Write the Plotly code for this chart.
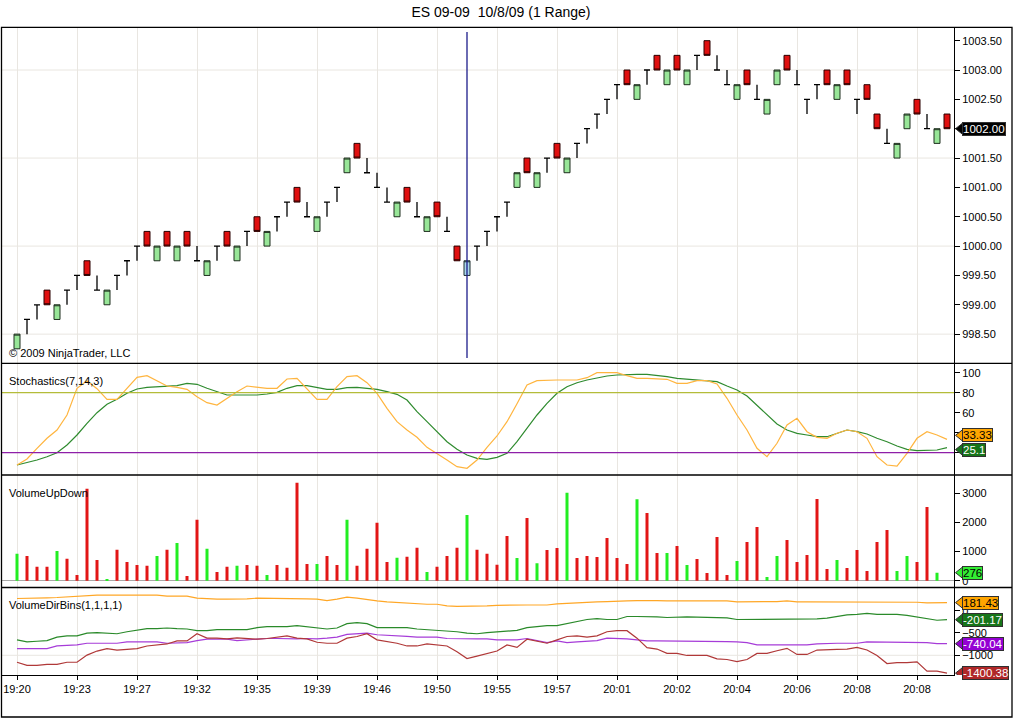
import plotly.graph_objects as go
from plotly.subplots import make_subplots

# ---------------- data ----------------
title_text = "ES 09-09\u00a0\u00a010/8/09 (1 Range)"
copyright_text = "\u00a9 2009 NinjaTrader, LLC"
panel_names = ["Stochastics(7,14,3)", "VolumeUpDown", "VolumeDirBins(1,1,1,1)"]

bar_index = list(range(94))

opens = [998.25, 998.75, 999.0, 999.25, 998.75, 999.25, 999.5, 999.75, 999.25, 999.0,
         999.5, 999.75, 1000.0, 1000.25, 999.75, 1000.25, 999.75, 1000.25, 999.75, 999.5,
         1000.0, 1000.25, 999.75, 1000.25, 1000.5, 1000.0, 1000.5, 1000.75, 1001.0, 1000.5,
         1000.25, 1000.75, 1001.0, 1001.25, 1001.75, 1001.25, 1001.0, 1000.75, 1000.5, 1001.0,
         1000.5, 1000.25, 1000.75, 1000.25, 1000.0, 999.5, 1000.0, 1000.25, 1000.5, 1000.75,
         1001.0, 1001.5, 1001.0, 1001.5, 1001.75, 1001.25, 1001.75, 1002.0, 1002.25, 1002.5,
         1002.75, 1003.0, 1002.5, 1003.0, 1003.25, 1002.75, 1003.25, 1002.75, 1003.25, 1003.5,
         1003.0, 1002.75, 1002.5, 1003.0, 1002.5, 1002.25, 1002.75, 1003.25, 1002.75, 1002.5,
         1002.75, 1003.0, 1002.5, 1003.0, 1002.5, 1002.75, 1002.25, 1001.75, 1001.5, 1002.0,
         1002.5, 1002.0, 1001.75, 1002.25]
highs = [998.5, 998.75, 999.0, 999.25, 999.0, 999.25, 999.5, 999.75, 999.5, 999.25,
         999.5, 999.75, 1000.0, 1000.25, 1000.0, 1000.25, 1000.0, 1000.25, 1000.0, 999.75,
         1000.0, 1000.25, 1000.0, 1000.25, 1000.5, 1000.25, 1000.5, 1000.75, 1001.0, 1000.75,
         1000.5, 1000.75, 1001.0, 1001.5, 1001.75, 1001.5, 1001.25, 1001.0, 1000.75, 1001.0,
         1000.75, 1000.5, 1000.75, 1000.5, 1000.0, 999.75, 1000.0, 1000.25, 1000.5, 1000.75,
         1001.25, 1001.5, 1001.25, 1001.5, 1001.75, 1001.5, 1001.75, 1002.0, 1002.25, 1002.5,
         1002.75, 1003.0, 1002.75, 1003.0, 1003.25, 1003.0, 1003.25, 1003.0, 1003.25, 1003.5,
         1003.25, 1003.0, 1002.75, 1003.0, 1002.75, 1002.5, 1003.0, 1003.25, 1003.0, 1002.5,
         1002.75, 1003.0, 1002.75, 1003.0, 1002.5, 1002.75, 1002.25, 1002.0, 1001.75, 1002.25,
         1002.5, 1002.25, 1002.0, 1002.25]
lows = [998.25, 998.5, 998.75, 999.0, 998.75, 999.0, 999.25, 999.5, 999.25, 999.0,
        999.25, 999.5, 999.75, 1000.0, 999.75, 1000.0, 999.75, 1000.0, 999.75, 999.5,
        999.75, 1000.0, 999.75, 1000.0, 1000.25, 1000.0, 1000.25, 1000.5, 1000.75, 1000.5,
        1000.25, 1000.5, 1000.75, 1001.25, 1001.5, 1001.25, 1001.0, 1000.75, 1000.5, 1000.75,
        1000.5, 1000.25, 1000.5, 1000.25, 999.75, 999.5, 999.75, 1000.0, 1000.25, 1000.5,
        1001.0, 1001.25, 1001.0, 1001.25, 1001.5, 1001.25, 1001.5, 1001.75, 1002.0, 1002.25,
        1002.5, 1002.75, 1002.5, 1002.75, 1003.0, 1002.75, 1003.0, 1002.75, 1003.0, 1003.25,
        1003.0, 1002.75, 1002.5, 1002.75, 1002.5, 1002.25, 1002.75, 1003.0, 1002.75, 1002.25,
        1002.5, 1002.75, 1002.5, 1002.75, 1002.25, 1002.5, 1002.0, 1001.75, 1001.5, 1002.0,
        1002.25, 1002.0, 1001.75, 1002.0]
closes = [998.5, 998.75, 999.0, 999.0, 999.0, 999.25, 999.5, 999.5, 999.25, 999.25,
          999.5, 999.75, 1000.0, 1000.0, 1000.0, 1000.0, 1000.0, 1000.0, 999.75, 999.75,
          1000.0, 1000.0, 1000.0, 1000.25, 1000.25, 1000.25, 1000.5, 1000.75, 1000.75, 1000.5,
          1000.5, 1000.75, 1001.0, 1001.5, 1001.5, 1001.25, 1001.0, 1000.75, 1000.75, 1000.75,
          1000.5, 1000.5, 1000.5, 1000.25, 999.75, 999.75, 1000.0, 1000.25, 1000.5, 1000.75,
          1001.25, 1001.25, 1001.25, 1001.5, 1001.5, 1001.5, 1001.75, 1002.0, 1002.25, 1002.5,
          1002.75, 1002.75, 1002.75, 1003.0, 1003.0, 1003.0, 1003.0, 1003.0, 1003.25, 1003.25,
          1003.0, 1002.75, 1002.75, 1002.75, 1002.5, 1002.5, 1003.0, 1003.0, 1002.75, 1002.5,
          1002.75, 1002.75, 1002.75, 1002.75, 1002.5, 1002.5, 1002.0, 1001.75, 1001.75, 1002.25,
          1002.25, 1002.0, 1002.0, 1002.0]
cursor_bar = 45

stoch_k = [7.7, 13.7, 24.4, 34.4, 42.7, 57.7, 84.4, 92, 84, 73.4,
           73.4, 84.4, 95.4, 97, 92, 86.7, 85.4, 83.4, 76, 70,
           67.7, 74.4, 81, 86.7, 85.4, 84.4, 84.4, 93.7, 94.4, 83.4,
           73.4, 73.4, 86, 96, 97, 90, 79.4, 64.4, 51, 42.7,
           35.4, 25.4, 19.4, 12.7, 6, 4.4, 12.7, 25.4, 36.7, 51,
           69, 87.7, 92, 92.7, 92.7, 92.7, 92.7, 95, 100, 100,
           100, 97, 94.4, 94.4, 93.7, 93.4, 89.4, 89.4, 92, 92,
           88.7, 74.4, 57.7, 42.7, 24.4, 16, 29.4, 47.7, 54.4, 41,
           35.4, 34.4, 39.4, 42.7, 41, 34.4, 16, 7.7, 6.7, 19.4,
           34.4, 41, 37.7, 33.33]
stoch_d = [7.7, 10, 12.7, 16, 20, 27.7, 37.7, 49.4, 60, 68.4,
           73.4, 79.4, 83.7, 85.4, 86, 86, 87, 89.4, 88.4, 84.4,
           81, 77.7, 77.7, 77.7, 77.7, 78.7, 80.4, 84.4, 87, 87,
           85, 83.4, 83.4, 85, 85.4, 84.4, 83.4, 81, 78.4, 72.7,
           61, 51, 41, 31, 23.4, 17.7, 14.4, 13.4, 15.4, 19.4,
           31, 44.4, 57.7, 69.4, 79.4, 86, 90, 92.7, 95, 96.7,
           97.7, 98.4, 98.4, 98.4, 97.4, 96, 94.4, 93.4, 92.7, 92,
           91, 86.7, 82.7, 76.7, 67.7, 57.7, 48.7, 42.7, 39.4, 37.7,
           36, 36, 39.4, 42.7, 41, 38.7, 34.4, 31, 26.7, 23.4,
           22, 22, 22.7, 25.1]
stoch_levels = [80, 20]

volume = [928, 848, 481, 481, 1019, 756, 195, 3161, 710, 57,
          1065, 641, 538, 515, 848, 1065, 1294, 160, 2096, 1100,
          298, 481, 515, 538, 515, 195, 538, 447, 3368, 573,
          573, 848, 538, 2096, 515, 1100, 1993, 641, 790, 825,
          1134, 298, 481, 848, 1134, 2257, 1065, 928, 550, 1535,
          779, 2154, 596, 1054, 1123, 3024, 779, 848, 813, 1466,
          779, 573, 2795, 2325, 951, 951, 1191, 538, 745, 263,
          1500, 195, 676, 1329, 1844, 126, 848, 1397, 641, 882,
          2806, 401, 710, 435, 1054, 332, 1329, 1741, 332, 848,
          641, 2531, 276, None]

vdb_orange = [273, 273, 280, 288, 296, 311, 318, 341, 349, 349,
              349, 349, 349, 349, 349, 326, 326, 326, 280, 265,
              258, 258, 258, 265, 280, 280, 280, 280, 273, 265,
              258, 227, 258, 303, 280, 258, 220, 197, 182, 166,
              151, 144, 144, 106, 98, 98, 98, 106, 121, 128,
              128, 128, 128, 128, 151, 166, 182, 189, 197, 204,
              220, 220, 227, 235, 227, 220, 220, 220, 220, 220,
              220, 220, 197, 197, 197, 197, 204, 220, 197, 197,
              197, 197, 197, 197, 197, 197, 197, 197, 197, 197,
              189, 175, 181, 181.43]
vdb_green = [-654, -700, -685, -670, -594, -563, -563, -502, -494, -502,
             -517, -472, -442, -404, -404, -388, -404, -411, -449, -449,
             -426, -426, -426, -426, -381, -358, -358, -358, -335, -358,
             -388, -411, -388, -290, -267, -290, -381, -381, -381, -381,
             -411, -426, -426, -442, -472, -502, -517, -494, -472, -464,
             -442, -381, -358, -335, -335, -290, -259, -198, -176, -198,
             -198, -130, -130, -130, -138, -153, -138, -138, -145, -145,
             -153, -160, -198, -198, -198, -198, -191, -183, -183, -183,
             -183, -168, -122, -92, -84, -62, -84, -84, -84, -107,
             -138, -183, -214, -201.17]
vdb_purple = [-852, -852, -852, -852, -791, -780, -768, -730, -730, -730,
              -730, -700, -700, -700, -700, -730, -722, -715, -670, -639,
              -639, -639, -670, -654, -639, -624, -624, -632, -632, -624,
              -632, -616, -594, -533, -525, -502, -540, -548, -563, -578,
              -594, -594, -594, -624, -632, -632, -632, -632, -654, -654,
              -654, -624, -677, -715, -677, -715, -700, -677, -670, -616,
              -616, -632, -654, -677, -677, -677, -677, -685, -685, -685,
              -692, -692, -700, -715, -768, -768, -753, -753, -753, -768,
              -745, -730, -730, -730, -730, -700, -700, -700, -700, -700,
              -700, -715, -738, -740.04]
vdb_red = [-1156, -1224, -1224, -1202, -1202, -1156, -1156, -996, -905, -852,
           -882, -867, -852, -791, -768, -746, -677, -677, -517, -616,
           -616, -632, -609, -616, -639, -624, -594, -563, -616, -632,
           -708, -730, -730, -616, -578, -517, -654, -692, -730, -791,
           -791, -746, -768, -791, -920, -1072, -1019, -958, -905, -768,
           -822, -639, -692, -730, -654, -578, -563, -594, -563, -472,
           -449, -449, -616, -829, -860, -958, -958, -1004, -1004, -1004,
           -1080, -1095, -1141, -1095, -958, -958, -898, -844, -981, -981,
           -882, -882, -867, -860, -822, -882, -1004, -1186, -1164, -1164,
           -1148, -1354, -1354, -1400.38]

time_tick_bars = [0, 6, 12, 18, 24, 30, 36, 42, 48, 54, 60, 66, 72, 78, 84, 90]
time_tick_labels = ["19:20", "19:23", "19:27", "19:32", "19:35", "19:39", "19:46", "19:50",
                    "19:55", "19:57", "20:01", "20:02", "20:04", "20:06", "20:08", "20:08"]
price_ticks = [998.5, 999.0, 999.5, 1000.0, 1000.5, 1001.0, 1001.5, 1002.0, 1002.5, 1003.0, 1003.5]
price_grid = [998.5, 1000.0, 1001.5, 1003.0]
stoch_ticks = [20, 40, 60, 80, 100]
vol_ticks = [0, 1000, 2000, 3000]
vdb_ticks = [-1000, -500, 0]
vdb_grid = [-1000]

# ---------------- geometry / style ----------------
W, H = 1016, 719
ML, MR, MT, MB = 2, 62, 27, 44
PW, PH = W - ML - MR, H - MT - MB
FONT = "Liberation Sans"
GRID = "#E9E6E1"


def pxx(px):
    return (px - ML) / PW


def pxy(py):
    return (H - MB - py) / PH


bounds = [27, 363.3, 475, 587.5, 675]

fig = make_subplots(rows=4, cols=1, shared_xaxes=True, vertical_spacing=0)

# ---- price candles ----
green_idx = [i for i in bar_index if closes[i] > opens[i] and i != cursor_bar]
red_idx = [i for i in bar_index if closes[i] < opens[i] and i != cursor_bar]
doji_idx = [i for i in bar_index if closes[i] == opens[i] and i != cursor_bar]
cur_idx = [cursor_bar]


def candles(idx, fill, line, lw):
    style = dict(fillcolor=fill, line=dict(color=line, width=lw))
    return go.Candlestick(
        x=[bar_index[i] for i in idx],
        open=[opens[i] for i in idx], high=[highs[i] for i in idx],
        low=[lows[i] for i in idx], close=[closes[i] for i in idx],
        increasing=style, decreasing=style, whiskerwidth=0,
        hoverinfo="skip", showlegend=False)


fig.add_trace(candles(doji_idx, "#000000", "#000000", 1.3), row=1, col=1)
fig.add_trace(candles(green_idx, "#98E698", "#1E2E1E", 1), row=1, col=1)
fig.add_trace(candles(red_idx, "#E01010", "#2A0000", 1), row=1, col=1)
fig.add_trace(candles(cur_idx, "#A9D8EE", "#1E2E2E", 1), row=1, col=1)

# ---- stochastics ----
fig.add_trace(go.Scatter(x=bar_index, y=stoch_d, mode="lines",
                         line=dict(color="#2F8B2F", width=1.2),
                         hoverinfo="skip", showlegend=False), row=2, col=1)
fig.add_trace(go.Scatter(x=bar_index, y=stoch_k, mode="lines",
                         line=dict(color="#FFB53F", width=1.2),
                         hoverinfo="skip", showlegend=False), row=2, col=1)

# ---- volume ----
vol_colors = ["#22EE22" if closes[i] > opens[i] else "#E21616" for i in bar_index]
fig.add_trace(go.Bar(x=bar_index, y=volume, width=0.3,
                     marker=dict(color=vol_colors, line=dict(width=0)),
                     hoverinfo="skip", showlegend=False), row=3, col=1)

# ---- volume dir bins ----
for ys, col in [(vdb_orange, "#FFA726"), (vdb_green, "#2A8A2A"),
                (vdb_purple, "#A63CD8"), (vdb_red, "#B03838")]:
    fig.add_trace(go.Scatter(x=bar_index, y=ys, mode="lines",
                             line=dict(color=col, width=1.2),
                             hoverinfo="skip", showlegend=False), row=4, col=1)

# ---------------- axes ----------------
fig.update_xaxes(range=[-1.5, 93.7], tickvals=time_tick_bars, ticktext=time_tick_labels,
                 showgrid=True, gridcolor=GRID, gridwidth=1, zeroline=False,
                 showline=False, ticks="", rangeslider_visible=False, fixedrange=True)
fig.update_xaxes(row=4, col=1, showticklabels=True, ticks="outside", ticklen=4,
                 tickcolor="black", showline=True, linecolor="black", linewidth=1,
                 tickfont=dict(family=FONT, size=11, color="black"))

yax_common = dict(side="right", showline=True, linecolor="black", linewidth=1,
                  ticks="outside", ticklen=5, tickcolor="black", showgrid=False,
                  zeroline=False, fixedrange=True,
                  tickfont=dict(family=FONT, size=11, color="black"))
fig.update_yaxes(row=1, col=1, range=[998.003, 1003.733], tickvals=price_ticks,
                 ticktext=["%.2f" % v for v in price_ticks], **yax_common)
fig.update_yaxes(row=2, col=1, range=[-2.3, 109.4], tickvals=stoch_ticks, **yax_common)
fig.update_yaxes(row=3, col=1, range=[-234, 3632], tickvals=vol_ticks, **yax_common)
fig.update_yaxes(row=3, col=1, zeroline=True, zerolinecolor="#A8A8A8", zerolinewidth=1)
fig.update_yaxes(row=4, col=1, range=[-1442, 520], tickvals=vdb_ticks, **yax_common)

fig.update_layout(
    yaxis=dict(domain=[pxy(bounds[1]), pxy(bounds[0])]),
    yaxis2=dict(domain=[pxy(bounds[2]), pxy(bounds[1])]),
    yaxis3=dict(domain=[pxy(bounds[3]), pxy(bounds[2])]),
    yaxis4=dict(domain=[0, pxy(bounds[3])]),
)

shapes = []
# horizontal grid lines
for v in price_grid:
    shapes.append(dict(type="line", xref="x domain", yref="y", x0=0, x1=1, y0=v, y1=v,
                       line=dict(color=GRID, width=1), layer="below"))
for v in vdb_grid:
    shapes.append(dict(type="line", xref="x4 domain", yref="y4", x0=0, x1=1, y0=v, y1=v,
                       line=dict(color=GRID, width=1), layer="below"))
# stochastics level lines
for v, col in zip(stoch_levels, ["#B4BC3A", "#8E1FA8"]):
    shapes.append(dict(type="line", xref="x2 domain", yref="y2", x0=0, x1=1, y0=v, y1=v,
                       line=dict(color=col, width=1.2)))
# cursor line
shapes.append(dict(type="line", xref="x", yref="paper", x0=cursor_bar, x1=cursor_bar,
                   y0=pxy(358), y1=pxy(32), line=dict(color="#1C1C8A", width=1.3)))
# frame & separators
shapes.append(dict(type="rect", xref="paper", yref="paper", x0=pxx(1.5), x1=pxx(1012),
                   y0=pxy(717), y1=pxy(27.3), line=dict(color="black", width=1.3)))
for b in bounds[1:4]:
    shapes.append(dict(type="line", xref="paper", yref="paper", x0=pxx(1.5), x1=pxx(1012),
                       y0=pxy(b), y1=pxy(b), line=dict(color="black", width=1.3)))

annotations = []
# last value labels
labels = [
    ("y", closes[-1], "%.2f" % closes[-1], "#000000", "#FFFFFF", 0),
    ("y2", stoch_k[-1], "%.2f" % stoch_k[-1], "#FFA500", "#000000", 4),
    ("y2", stoch_d[-1], "%g" % stoch_d[-1], "#17751A", "#FFFFFF", -2),
    ("y3", volume[-2], "%d" % volume[-2], "#33EE33", "#000000", 0),
    ("y4", vdb_orange[-1], "%.2f" % vdb_orange[-1], "#FFA500", "#000000", 0),
    ("y4", vdb_green[-1], "%.2f" % vdb_green[-1], "#17751A", "#FFFFFF", 0),
    ("y4", vdb_purple[-1], "%.2f" % vdb_purple[-1], "#9400D3", "#FFFFFF", 0),
    ("y4", vdb_red[-1], "%.2f" % vdb_red[-1], "#B02828", "#FFFFFF", 0),
]
for yref, val, txt, bg, fg, ysh in labels:
    annotations.append(dict(xref="paper", yref=yref, x=pxx(962), y=val, text=txt,
                            showarrow=False, xanchor="left", yanchor="middle", yshift=ysh,
                            bgcolor=bg, bordercolor="#303030", borderwidth=1, borderpad=0,
                            font=dict(family=FONT, size=11.5, color=fg)))
    shapes.append(dict(type="path", xref="paper", yref=yref, xsizemode="pixel",
                       ysizemode="pixel", xanchor=pxx(955.5), yanchor=val,
                       path="M0,%d L7.5,%d L7.5,%d Z" % (ysh, ysh + 6.5, ysh - 6.5),
                       fillcolor=bg, line=dict(color="#303030", width=1)))

# panel texts
annotations.append(dict(xref="paper", yref="paper", x=pxx(7), y=pxy(353), text=copyright_text,
                        showarrow=False, xanchor="left", yanchor="middle",
                        font=dict(family=FONT, size=11, color="black")))
for name, py in zip(panel_names, [381.5, 493.3, 605.3]):
    annotations.append(dict(xref="paper", yref="paper", x=pxx(7), y=pxy(py), text=name,
                            showarrow=False, xanchor="left", yanchor="middle",
                            font=dict(family=FONT, size=11, color="black")))

fig.update_layout(
    width=W, height=H,
    margin=dict(l=ML, r=MR, t=MT, b=MB, pad=0),
    paper_bgcolor="white", plot_bgcolor="white",
    boxgap=0.4, boxgroupgap=0,
    showlegend=False,
    title=dict(text=title_text, x=501 / W, xref="container", xanchor="center",
               y=1 - 12 / H, yref="container", yanchor="middle",
               font=dict(family=FONT, size=14, color="black")),
    shapes=shapes, annotations=annotations,
    font=dict(family=FONT, size=11, color="black"),
)

fig.write_html("out.html", config={"displayModeBar": False},
               post_script="document.body.style.margin='0';document.body.style.overflow='hidden';")
